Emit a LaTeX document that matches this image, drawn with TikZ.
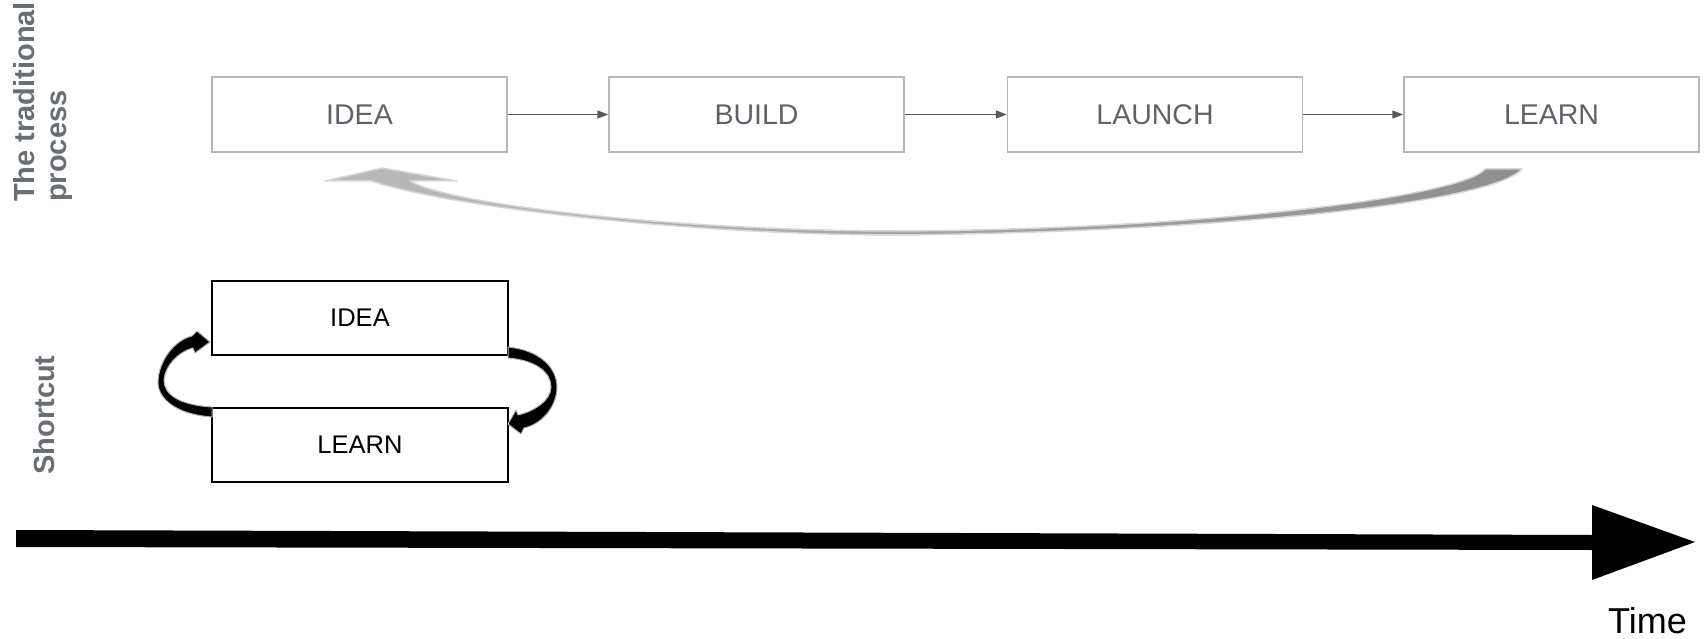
\documentclass[tikz,border=0pt]{standalone}
\usepackage{fontspec}
\setmainfont{Liberation Sans}
\usetikzlibrary{arrows.meta}
\definecolor{boxgray}{HTML}{B7B7B7}
\definecolor{txtgray}{RGB}{95,99,104}
\definecolor{lblgray}{RGB}{105,110,116}
\definecolor{arrgray}{HTML}{595959}
\definecolor{loopedge}{HTML}{D6D6D6}
\tikzset{
  topbox/.style={draw=boxgray, line width=1.5pt, minimum width=295pt, minimum height=75pt,
    inner sep=0pt, text=txtgray, font=\fontsize{28.5}{32}\selectfont},
  lowbox/.style={draw=black, line width=1.5pt, minimum width=296pt, minimum height=74pt,
    inner sep=0pt, text=black, font=\fontsize{25.5}{28}\selectfont},
  flowarrow/.style={draw=arrgray, line width=1.5pt, -{Triangle[length=11pt,width=8pt]}},
  sidelabel/.style={rotate=90, inner sep=0pt, text=lblgray, font=\fontsize{29}{32.5}\selectfont\bfseries},
  looparrow/.style={fill=black, draw=black!30, line width=1pt, line join=round},
}
\begin{document}
\begin{tikzpicture}[x=1pt,y=-1pt]
\useasboundingbox (0,0) rectangle (1708,639);
% traditional process
\node[topbox] (idea)   at (359.5,114.5) {IDEA};
\node[topbox] (build)  at (756.5,114.5) {BUILD};
\node[topbox] (launch) at (1155,114.5) {LAUNCH};
\node[topbox] (learn)  at (1551.5,114.5) {LEARN};
\draw[flowarrow] (idea.east) -- (build.west);
\draw[flowarrow] (build.east) -- (launch.west);
\draw[flowarrow] (launch.east) -- (learn.west);
% long return arrow
\path[left color=black!27, right color=black!44, draw=loopedge, line width=1.5pt, line join=round]
  (1522,169) .. controls (1490,205) and (1200,232) .. (900,235)
  .. controls (680,235) and (440,205) .. (372,181)
  -- (325,181) -- (382,168) -- (457,181) -- (410,181)
  .. controls (450,205) and (680,231) .. (900,231)
  .. controls (1220,229) and (1465,195) .. (1485,169) -- cycle;
% labels
\node[sidelabel, anchor=north west, align=left] (lbltrad) at (13,202) {The traditional\\process};
\node[sidelabel, anchor=base] (lblshort) at (54,415) {Shortcut};
% shortcut
\node[lowbox] (sidea)  at (360,318) {IDEA};
\node[lowbox] (slearn) at (360,445) {LEARN};
\path[looparrow]
  (212,417) .. controls (172,414) and (157,396) .. (158,381)
  .. controls (159,360) and (175,340) .. (192,336)
  -- (197,331) -- (210,342) -- (195,353) -- (193,348)
  .. controls (178,352) and (165,366) .. (164,380)
  .. controls (164,395) and (180,405) .. (212,407) -- cycle;
\path[looparrow]
  (508,347) .. controls (540,350) and (557,368) .. (557,387)
  .. controls (557,408) and (540,425) .. (524,428)
  -- (521,434) -- (508,424) -- (516,410) -- (518,415)
  .. controls (535,411) and (551,400) .. (551,387)
  .. controls (551,372) and (535,360) .. (508,358) -- cycle;
% time axis
\fill[black] (16,530) -- (1592,535) -- (1592,505) -- (1695,542) -- (1592,580) -- (1592,550) -- (16,547) -- cycle;
\node[anchor=base west, inner sep=0pt, font=\fontsize{36}{40}\selectfont] (time) at (1608,633) {Time};
\end{tikzpicture}
\end{document}
